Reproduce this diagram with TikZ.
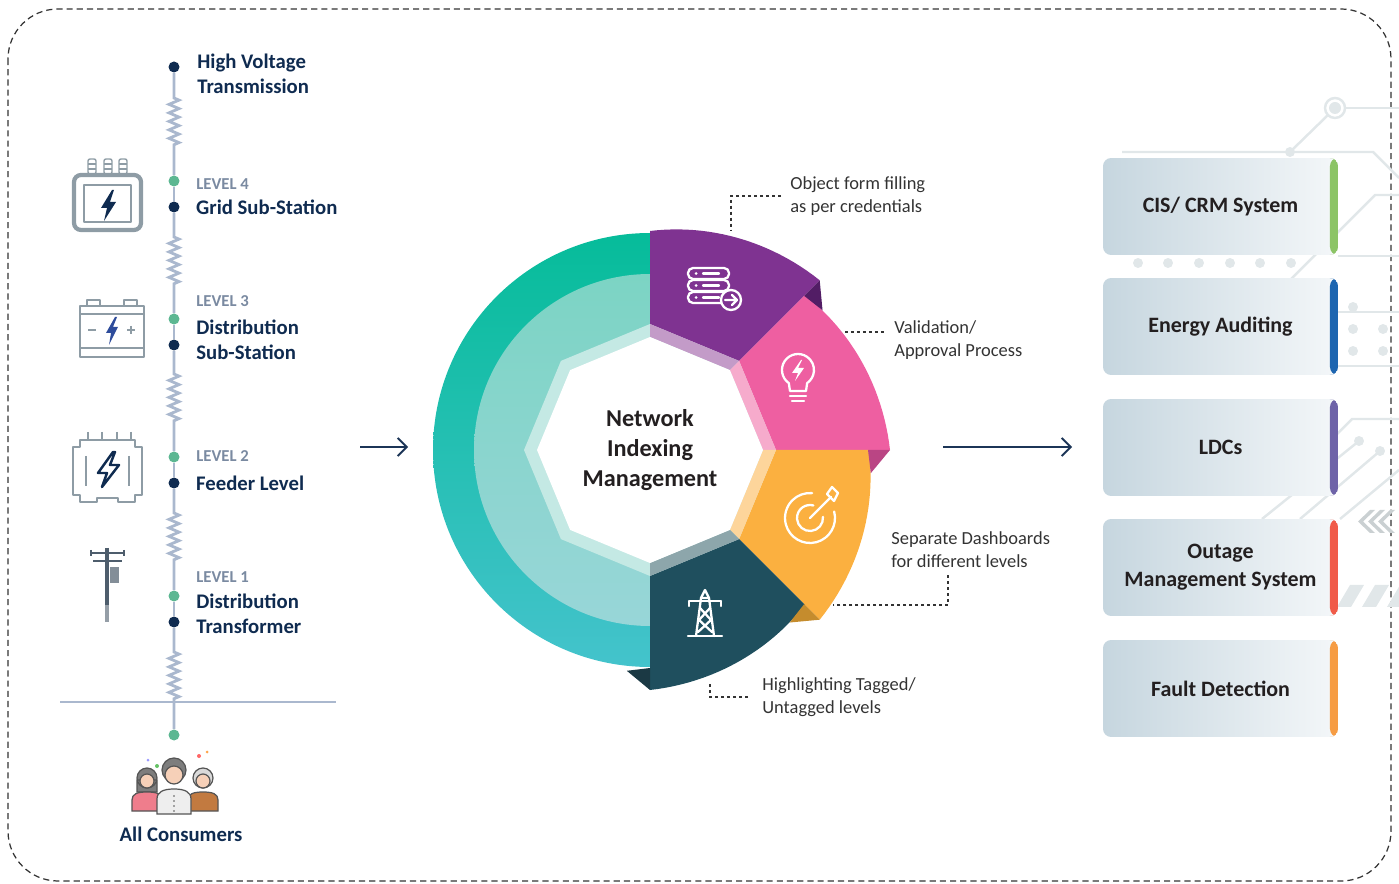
\documentclass[tikz,border=0pt]{standalone}
\usepackage{fontspec}
\setmainfont{Carlito}
\usetikzlibrary{positioning,arrows.meta,decorations.pathmorphing}

\definecolor{navy}{HTML}{0F2B50}
\definecolor{lvlgray}{HTML}{7A8AA1}
\definecolor{wirecol}{HTML}{AAB8CE}
\definecolor{dotgreen}{HTML}{5CB792}
\definecolor{icongray}{HTML}{8E9CA5}
\definecolor{boltblue}{HTML}{2E4C9B}
\definecolor{polecol}{HTML}{4E5D6C}
\definecolor{notetext}{HTML}{333333}
\definecolor{arrowcol}{HTML}{1C3557}
\definecolor{tealA}{HTML}{06BC9A}
\definecolor{tealB}{HTML}{44C3CC}
\definecolor{mintA}{HTML}{7CD4C4}
\definecolor{mintB}{HTML}{98D6D8}
\definecolor{bandteal}{HTML}{C4E9E4}
\definecolor{segpurple}{HTML}{7F3391}
\definecolor{segpink}{HTML}{EE5FA1}
\definecolor{segorange}{HTML}{FBB040}
\definecolor{segdark}{HTML}{1F4F5E}
\definecolor{bandpurple}{HTML}{C39BC8}
\definecolor{bandpink}{HTML}{F6ABCC}
\definecolor{bandorange}{HTML}{FDD59B}
\definecolor{banddark}{HTML}{8DA6AB}
\definecolor{foldpurple}{HTML}{521D65}
\definecolor{foldpink}{HTML}{BA4584}
\definecolor{foldorange}{HTML}{C58C2D}
\definecolor{folddark}{HTML}{1B3944}
\definecolor{boxL}{HTML}{C6D6DF}
\definecolor{boxR}{HTML}{F4F7F9}
\definecolor{boxtext}{HTML}{231F20}
\definecolor{tracecol}{HTML}{E1E7E9}
\definecolor{stripgreen}{HTML}{8CC466}
\definecolor{stripblue}{HTML}{1D65B0}
\definecolor{strippurple}{HTML}{6E63A8}
\definecolor{stripred}{HTML}{F05B49}
\definecolor{striporange}{HTML}{F69C43}
\definecolor{skin}{HTML}{F6D0B8}
\definecolor{shirtpink}{HTML}{EF7D8C}
\definecolor{shirtwhite}{HTML}{EEEEEE}
\definecolor{shirtbrown}{HTML}{C27A40}
\definecolor{hairgray}{HTML}{7D7D7D}
\definecolor{hairwhite}{HTML}{DADADA}
\definecolor{outline}{HTML}{555555}

\tikzset{
  frame/.style={black!80, line width=0.7pt, dash pattern=on 3.5pt off 2.3pt, rounded corners=1cm},
  wireline/.style={wirecol, line width=1.6pt},
  zz/.style={decorate, decoration={zigzag, segment length=1.7mm, amplitude=1mm}},
  navydot/.style={circle, fill=navy, inner sep=0pt, minimum size=2.2mm},
  greendot/.style={circle, fill=dotgreen, inner sep=0pt, minimum size=2.2mm},
  stage/.style={anchor=west, text=navy, font=\fontsize{11.8}{14.2}\selectfont\bfseries, align=left, inner sep=0pt},
  lvl/.style={anchor=west, text=lvlgray, font=\fontsize{9.5}{11}\selectfont\bfseries, inner sep=0pt},
  icon/.style={icongray, line width=1.2pt, line join=round},
  person/.style={outline, line width=0.7pt},
  hubtext/.style={align=center, text=boxtext, font=\fontsize{13.8}{17}\selectfont\bfseries, inner sep=0pt},
  iconline/.style={white, line width=1.3pt, line cap=round, line join=round},
  note/.style={anchor=west, text=notetext, font=\fontsize{10.5}{13}\selectfont, align=left, inner sep=0pt},
  leader/.style={notetext, line width=0.6pt, dash pattern=on 1.7pt off 1.7pt},
  flow/.style={arrowcol, line width=1.1pt, -{Straight Barb[length=1.8mm, width=3.6mm]}},
  trace/.style={tracecol, line width=1.4pt},
  appbox/.style={rounded corners=1.6mm, left color=boxL, right color=boxR,
    minimum width=4.7cm, minimum height=1.94cm, inner sep=0pt, align=center,
    text=boxtext, font=\fontsize{12.5}{16}\selectfont\bfseries,
    path picture={\fill[#1] ([xshift=-1.6mm]path picture bounding box.north east)
      rectangle (path picture bounding box.south east);}},
}

\begin{document}
\begin{tikzpicture}[x=0.02cm, y=-0.02cm]
\useasboundingbox (0,0) rectangle (1399,884);
\draw[frame] (8,9) rectangle (1391,881);

% voltage ladder
\node[navydot] (hv) at (174,67) {};
\node[greendot] (g4) at (174,181) {};
\node[navydot] (l4) at (174,207) {};
\node[greendot] (g3) at (174,319) {};
\node[navydot] (l3) at (174,345) {};
\node[greendot] (g2) at (174,457) {};
\node[navydot] (l2) at (174,483) {};
\node[greendot] (g1) at (174,596) {};
\node[navydot] (l1) at (174,622) {};
\node[greendot] (cons) at (174,735) {};

\foreach \a/\b/\z in {hv/g4/98, l4/g3/237, l3/g2/374, l2/g1/513, l1/cons/652}
  \draw[wireline] (\a) -- (174,\z) decorate[zz]{-- (174,\z+50)} -- (\b);
\foreach \a/\b in {g4/l4, g3/l3, g2/l2, g1/l1}
  \draw[wireline] (\a) -- (\b);
\draw[wireline] (60,702) -- (336,702);

\node[stage] (hvt) at (197,74) {High Voltage\\Transmission};
\node[lvl] at (196,184) {LEVEL 4};
\node[stage, right=3.2mm of l4] {Grid Sub-Station};
\node[lvl] at (196,301) {LEVEL 3};
\node[stage] at (196,340) {Distribution\\Sub-Station};
\node[lvl] at (196,456) {LEVEL 2};
\node[stage, right=3.2mm of l2] {Feeder Level};
\node[lvl] at (196,577) {LEVEL 1};
\node[stage] at (196,614) {Distribution\\Transformer};
\node[stage, anchor=center] (allc) at (181,834) {All Consumers};

% grid sub-station
\draw[icon, line width=2.4pt, rounded corners=1.4mm] (74,175) rectangle (141,230);
\draw[icon, line width=0.6pt] (84,185) rectangle (131,222);
\foreach \x in {92,108,123} {
  \draw[icon, line width=0.8pt, rounded corners=0.4mm] (\x-4,159) rectangle (\x+4,174);
  \draw[icon, line width=0.6pt] (\x-4,164) -- (\x+4,164) (\x-4,169) -- (\x+4,169);
}
\fill[navy] (112,190) -- (101,208) -- (107,208) -- (104,221) -- (116,202) -- (110,202) -- (114,190) -- cycle;

% distribution sub-station
\draw[icon] (80,306) rectangle (144,357);
\draw[icon] (80,314) -- (144,314) (80,348) -- (144,348);
\draw[icon] (87,306) -- (87,300) -- (100,300) -- (100,306);
\draw[icon] (124,306) -- (124,300) -- (137,300) -- (137,306);
\draw[icon] (88,330) -- (96,330) (127,330) -- (135,330) (131,326) -- (131,334);
\fill[boltblue] (115,317) -- (106,333) -- (111,333) -- (109,345) -- (118,327) -- (113,327) -- (117,317) -- cycle;

% feeder
\draw[icon] (80,440) -- (135,440) -- (135,447) -- (142,447) -- (142,495) -- (135,495) -- (135,502)
  -- (118,502) -- (118,498) -- (97,498) -- (97,502) -- (80,502) -- (80,495) -- (73,495) -- (73,447) -- (80,447) -- cycle;
\foreach \x in {88,102,117,131}
  \draw[icon] (\x,432) -- (\x,440);
\draw[icon] (86,456) -- (86,486) (129,456) -- (129,486);
\draw[navy, line width=1.4pt, line join=round] (113,452) -- (98,473) -- (107,473) -- (102,487) -- (119,465) -- (110,465) -- (115,452) -- cycle;

% transformer pole
\draw[polecol, line width=2pt] (107,548) -- (107,605);
\draw[polecol!60, line width=2.6pt] (107,605) -- (107,622);
\draw[polecol, line width=1.2pt] (90,553) -- (125,553) (93,561) -- (122,561);
\foreach \x in {91,124} \draw[polecol, line width=1pt] (\x,550) -- (\x,556);
\fill[polecol!70] (110,567) rectangle (119,583);

% consumers
\fill[blue!40] (148,760) circle[radius=1.5];
\fill[green!60!black!60] (157,766) circle[radius=2];
\fill[red!60] (199,756) circle[radius=2];
\fill[orange!70] (207,752) circle[radius=1.5];
\filldraw[person, fill=hairgray] (137,792) rectangle (157,780) (147,778) circle[radius=10];
\filldraw[person, fill=skin] (147,781) circle[radius=7];
\filldraw[person, fill=shirtpink] (132,811) -- (132,800) .. controls (132,794) and (137,792) .. (147,792) .. controls (157,792) and (162,794) .. (162,800) -- (162,811) -- cycle;
\filldraw[person, fill=hairwhite] (203,778) circle[radius=10];
\filldraw[person, fill=skin] (203,781) circle[radius=7];
\filldraw[person, fill=shirtbrown] (188,811) -- (188,800) .. controls (188,794) and (193,792) .. (203,792) .. controls (213,792) and (218,794) .. (218,800) -- (218,811) -- cycle;
\filldraw[person, fill=hairgray] (174,770) circle[radius=12];
\filldraw[person, fill=skin] (174,775) circle[radius=9];
\filldraw[person, fill=shirtwhite] (157,814) -- (157,799) .. controls (157,792) and (163,789) .. (174,789) .. controls (185,789) and (191,792) .. (191,799) -- (191,814) -- cycle;
\foreach \y in {796,801,806,811} \fill[outline] (174,\y) circle[radius=0.8];

% wheel
\begin{scope}[shift={(650,450)}]
  \shade[top color=tealA, bottom color=tealB] (-90:217) arc[start angle=-90, end angle=-270, radius=217] -- cycle;
  \shade[top color=mintA, bottom color=mintB] (-90:176) arc[start angle=-90, end angle=-270, radius=176] -- cycle;
  \fill[bandteal] (0:126) \foreach \t in {45,90,...,315} {-- (\t:126)} -- cycle;
  \foreach \a/\body/\band in {-90/segpurple/bandpurple, -45/segpink/bandpink, 0/segorange/bandorange, 45/segdark/banddark} {
    \pgfmathsetmacro{\aend}{\a+45}
    \fill[\body] (\a:126) -- plot[domain=\a:\aend, samples=25] (\x:{219+21*(\x-(\a))/45}) -- (\aend:126) -- cycle;
    \fill[\band] (\a:113) -- (\a:126) -- (\aend:126) -- (\aend:113) -- cycle;
  }
  \foreach \a/\fold in {-45/foldpurple, 0/foldpink, 45/foldorange, 90/folddark}
    \fill[\fold] (\a:240) -- (\a:218) -- ({\a+6}:222) -- cycle;
  \fill[white] (0:113) \foreach \t in {45,90,...,315} {-- (\t:113)} -- cycle;
  \node[hubtext] (hub) at (0,0) {Network\\Indexing\\Management};
\end{scope}

% segment icons
\foreach \y in {268,280,292} {
  \draw[iconline, rounded corners=1mm] (688,\y) rectangle (729,\y+11);
  \fill[white] (696,\y+5.5) circle[radius=1.5];
  \draw[iconline] (703,\y+5.5) -- (719,\y+5.5);
}
\draw[iconline, fill=segpurple] (731,300) circle[radius=10];
\draw[iconline] (725,300) -- (737,300) (732,295) -- (737,300) -- (732,305);

\draw[iconline] (788.8,383.1) arc[start angle=125, end angle=415, radius=16] -- (806,391) -- (790,391) -- cycle;
\draw[iconline] (790,396) -- (806,396) (792,401) -- (804,401);
\fill[white] (801,360) -- (792,373) -- (798,373) -- (795,381) -- (804,368) -- (798,368) -- (802,360) -- cycle;

\draw[iconline] (810,518) ++(-15:25) arc[start angle=-15, end angle=275, radius=25];
\draw[iconline] (810,518) ++(-5:13) arc[start angle=-5, end angle=285, radius=13];
\draw[iconline] (810,518) -- (831,497);
\draw[iconline] (827,494) -- (832,487) -- (838,493) -- (834,501) -- cycle;

\draw[iconline] (696,636) -- (701,598) -- (709,598) -- (714,636);
\draw[iconline] (701,598) -- (705,590) -- (709,598);
\draw[iconline] (689,601) -- (721,601) (689,601) -- (689,606) (721,601) -- (721,606);
\draw[iconline] (700,608) -- (711,620) -- (698,632) (710,608) -- (699,620) -- (712,632);
\draw[iconline] (688,636) -- (722,636);

% notes
\node[note] (obj) at (790,196) {Object form filling\\as per credentials};
\node[note] (val) at (894,340) {Validation/\\Approval Process};
\node[note] (dash) at (891,550) {Separate Dashboards\\for different levels};
\node[note] (tag) at (762,697) {Highlighting Tagged/\\Untagged levels};
\coordinate (p1) at (731,230);
\coordinate (p2) at (845,332);
\coordinate (p3) at (833,605);
\coordinate (p4) at (710,682);
\draw[leader, shorten <=1.8mm] (obj.west) -| (p1);
\draw[leader, shorten >=1.6mm] (p2) -- (p2 -| val.west);
\draw[leader, shorten <=1.4mm] (dash.south -| 948,0) |- (p3);
\draw[leader, shorten <=2.8mm] (tag.west) -| (p4);

% flow arrows
\coordinate (inL) at (360,447);
\coordinate (inR) at (408,447);
\coordinate (outL) at (943,447);
\coordinate (outR) at (1072,447);
\draw[flow] (inL) -- (inR);
\draw[flow] (outL) -- (outR);

% circuit traces behind the boxes
\draw[trace] (1122,152) -- (1373,152) -- (1399,178);
\draw[trace] (1399,108) -- (1345,108);
\draw[trace] (1335,108) circle[radius=10];
\fill[tracecol] (1335,108) circle[radius=6];
\draw[trace] (1328,115) -- (1290,152);
\fill[tracecol] (1290,152) circle[radius=5];
\draw[trace] (1399,195) -- (1375,195) -- (1288,282);
\draw[trace] (1338,256) -- (1399,256);
\foreach \x in {1138,1168,1199,1230,1260,1291}
  \fill[tracecol] (\x,263) circle[radius=5];
\draw[trace] (1338,312) -- (1399,312) (1338,366) -- (1399,366);
\foreach \x/\y in {1353/307, 1353/329, 1383/329, 1353/351, 1383/351}
  \fill[tracecol] (\x,\y) circle[radius=5];
\draw[trace] (1399,419) -- (1352,419) -- (1330,441);
\draw[trace] (1359,441) -- (1262,519);
\fill[tracecol] (1359,441) circle[radius=5];
\draw[trace] (1380,451) -- (1300,519);
\fill[tracecol] (1380,451) circle[radius=5];
\draw[trace] (1399,470) -- (1340,519);
\foreach \x in {1358,1368,1378}
  \fill[tracecol!90!black] (\x+12,510) -- (\x,521.5) -- (\x+12,533) -- (\x+17,533) -- (\x+5,521.5) -- (\x+17,510) -- cycle;
\foreach \x in {1337,1362,1387}
  \fill[tracecol] (\x,607) -- (\x+13,585) -- (\x+27,585) -- (\x+14,607) -- cycle;

% target systems
\node[appbox=stripgreen] (cis) at (1220.5,206.5) {CIS/ CRM System};
\node[appbox=stripblue] (audit) at (1220.5,326.5) {Energy Auditing};
\node[appbox=strippurple] (ldc) at (1220.5,447.5) {LDCs};
\node[appbox=stripred] (oms) at (1220.5,567.5) {Outage\\Management System};
\node[appbox=striporange] (fault) at (1220.5,688.5) {Fault Detection};

\end{tikzpicture}
\end{document}
